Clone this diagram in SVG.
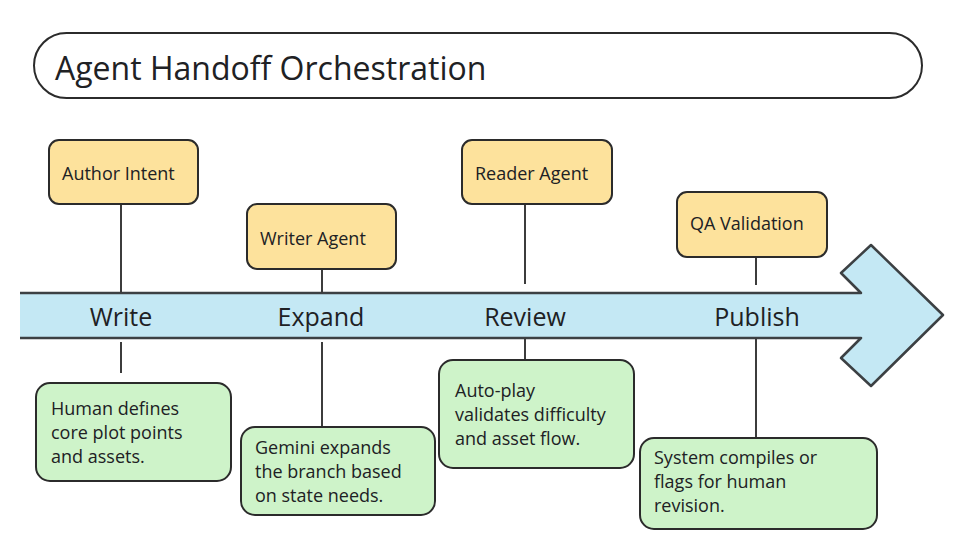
<svg xmlns="http://www.w3.org/2000/svg" width="960" height="540" viewBox="0 0 960 540">
<style>
text{font-family:"Open Sans","Noto Sans",sans-serif;fill:#202124}
.title{font-size:32px}
.agent rect{fill:#FDE29C;stroke:#2b2b2b;stroke-width:2}
.agent text{font-size:18px}
.note rect{fill:#CEF3C9;stroke:#2b2b2b;stroke-width:2}
.note text{font-size:18px}
.stage{font-size:25px;text-anchor:middle}
.conn line{stroke:#3c3c3c;stroke-width:2}
</style>
<rect width="960" height="540" fill="#ffffff"/>
<g id="title">
<rect x="34" y="33" width="888" height="65" rx="32.5" fill="#ffffff" stroke="#2b2b2b" stroke-width="2"/>
<text class="title" x="55" y="80">Agent Handoff Orchestration</text>
</g>
<g id="timeline">
<path d="M20,293 H861 L841,273 L871,245 L943,315 L871,386 L841,358 L861,338 H20 Z" fill="#C4E8F4"/>
<path d="M20,293 H861 L841,273 L871,245 L943,315 L871,386 L841,358 L861,338 H20" fill="none" stroke="#3c4043" stroke-width="2.5" stroke-linejoin="round"/>
<text class="stage" x="121" y="326">Write</text>
<text class="stage" x="321" y="326">Expand</text>
<text class="stage" x="525" y="326">Review</text>
<text class="stage" x="757" y="326">Publish</text>
</g>
<g id="connectors" class="conn">
<line x1="121" y1="204" x2="121" y2="293"/>
<line x1="322" y1="269" x2="322" y2="293"/>
<line x1="525" y1="204" x2="525" y2="284"/>
<line x1="756" y1="257" x2="756" y2="285"/>
<line x1="121" y1="342" x2="121" y2="373"/>
<line x1="322" y1="342" x2="322" y2="427"/>
<line x1="525" y1="338" x2="525" y2="360"/>
<line x1="756" y1="338" x2="756" y2="438"/>
</g>
<g id="author-intent" class="agent">
<rect x="49" y="140" width="149" height="64" rx="10"/>
<text x="62" y="180">Author Intent</text>
</g>
<g id="writer-agent" class="agent">
<rect x="247" y="204" width="149" height="65" rx="10"/>
<text x="260" y="245">Writer Agent</text>
</g>
<g id="reader-agent" class="agent">
<rect x="462" y="140" width="150" height="64" rx="10"/>
<text x="475" y="180">Reader Agent</text>
</g>
<g id="qa-validation" class="agent">
<rect x="677" y="192" width="150" height="65" rx="10"/>
<text x="690" y="230">QA Validation</text>
</g>
<g id="note-write" class="note">
<rect x="36" y="383" width="195" height="98" rx="14"/>
<text x="51" y="415">Human defines</text>
<text x="51" y="439">core plot points</text>
<text x="51" y="463">and assets.</text>
</g>
<g id="note-expand" class="note">
<rect x="241" y="427" width="194" height="88" rx="14"/>
<text x="255" y="454">Gemini expands</text>
<text x="255" y="478">the branch based</text>
<text x="255" y="502">on state needs.</text>
</g>
<g id="note-review" class="note">
<rect x="439" y="360" width="195" height="108" rx="14"/>
<text x="455" y="397">Auto-play</text>
<text x="455" y="421">validates difficulty</text>
<text x="455" y="445">and asset flow.</text>
</g>
<g id="note-publish" class="note">
<rect x="640" y="438" width="237" height="91" rx="14"/>
<text x="654" y="464">System compiles or</text>
<text x="654" y="488">flags for human</text>
<text x="654" y="512">revision.</text>
</g>
</svg>
